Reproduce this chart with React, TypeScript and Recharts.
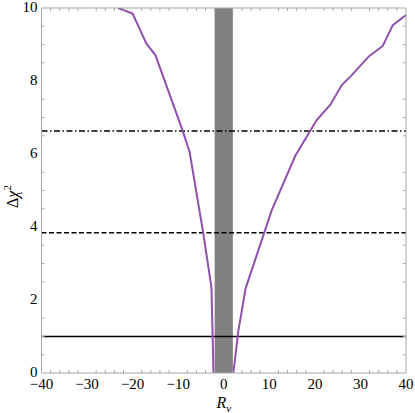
import {
  ComposedChart,
  Line,
  XAxis,
  YAxis,
  CartesianGrid,
  ReferenceLine,
  ReferenceArea,
  Label,
} from "recharts";

// left branch of the curve (R_nu, delta chi^2)
const leftR = [-23.2, -20.0, -17.0, -15.0, -9.2, -7.5, -4.5, -2.7, -2.25];
const leftChi = [10.0, 9.85, 9.03, 8.71, 6.7, 6.06, 3.83, 2.35, 0];

// right branch
const rightR = [2.1, 3.2, 4.8, 10.5, 15.7, 20.4, 23.4, 25.9, 28.1, 31.9, 34.9, 37.1, 40];
const rightChi = [0, 1.15, 2.32, 4.45, 5.95, 6.93, 7.35, 7.89, 8.16, 8.68, 8.96, 9.53, 9.81];

// excluded band and confidence levels
const bandLo = -2;
const bandHi = 2;
const level1 = 1;
const level2 = 3.84;
const level3 = 6.63;

const xMajor = [-40, -30, -20, -10, 0, 10, 20, 30, 40];
const xMinor = [
  -38, -36, -34, -32, -28, -26, -24, -22, -18, -16, -14, -12, -8, -6, -4, -2,
  2, 4, 6, 8, 12, 14, 16, 18, 22, 24, 26, 28, 32, 34, 36, 38,
];
const yMajor = [0, 2, 4, 6, 8, 10];
const yMinor = [0.5, 1, 1.5, 2.5, 3, 3.5, 4.5, 5, 5.5, 6.5, 7, 7.5, 8.5, 9, 9.5];

const leftData = leftR.map((r, i) => ({ x: r, y: leftChi[i] }));
const rightData = rightR.map((r, i) => ({ x: r, y: rightChi[i] }));

const FONT = "Liberation Serif, Times New Roman, DejaVu Serif, serif";
const FRAME = "#a8a8a8";
const GRID = "#d2d2d2";
const PURPLE = "#9150ab";

const minus = (v: number) => String(v).replace("-", "\u2212");

function BottomTick(props: any) {
  const { x, y, payload } = props;
  const v = payload.value;
  if (xMajor.includes(v)) {
    return (
      <text x={x} y={y} dy="0.71em" textAnchor="middle" style={{ fontFamily: FONT, fontSize: 15 }} fill="#000">
        {minus(v)}
      </text>
    );
  }
  return <line x1={x} x2={x} y1={y - 5} y2={y - 8} stroke={FRAME} />;
}

function LeftTick(props: any) {
  const { x, y, payload } = props;
  const v = payload.value;
  if (yMajor.includes(v)) {
    return (
      <text x={x} y={y - 1} dy="0.35em" textAnchor="end" style={{ fontFamily: FONT, fontSize: 15 }} fill="#000">
        {v}
      </text>
    );
  }
  return <line x1={x + 4} x2={x + 7} y1={y} y2={y} stroke={FRAME} />;
}

function TopTick(props: any) {
  const { x, y } = props;
  return <line x1={x} x2={x} y1={y} y2={y + 3} stroke={FRAME} />;
}

function RightTick(props: any) {
  const { x, y } = props;
  return <line x1={x} x2={x - 3} y1={y} y2={y} stroke={FRAME} />;
}

export default function App() {
  return (
    <div style={{ position: "absolute", left: 0, top: 0, background: "#fff" }}>
      <ComposedChart
        width={415}
        height={413}
        margin={{ top: 0, right: 0, left: 11.5, bottom: 0 }}
      >
        <CartesianGrid
          stroke={GRID}
          verticalValues={xMajor}
          horizontalValues={yMajor}
        />
        <XAxis
          xAxisId="b"
          type="number"
          dataKey="x"
          domain={[-40, 40]}
          ticks={[...xMajor, ...xMinor].sort((a, b) => a - b)}
          interval={0}
          allowDataOverflow
          height={40}
          tickSize={0}
          tickMargin={5}
          tick={<BottomTick />}
          axisLine={{ stroke: FRAME }}
        >
          <Label
            content={(p: any) => {
              const vb = p.viewBox;
              return (
                <text x={vb.x + vb.width / 2} y={vb.y + 35} textAnchor="middle" style={{ fontFamily: FONT }} fill="#000">
                  <tspan fontSize={16} fontStyle="italic">R</tspan>
                  <tspan fontSize={11} fontStyle="italic" dy={4}>ν</tspan>
                </text>
              );
            }}
          />
        </XAxis>
        <XAxis
          xAxisId="t"
          orientation="top"
          type="number"
          dataKey="x"
          domain={[-40, 40]}
          ticks={xMinor}
          interval={0}
          allowDataOverflow
          height={8}
          tickSize={0}
          tickMargin={0}
          tick={<TopTick />}
          axisLine={{ stroke: FRAME }}
        />
        <YAxis
          yAxisId="l"
          type="number"
          domain={[0, 10]}
          ticks={[...yMajor, ...yMinor].sort((a, b) => a - b)}
          interval={0}
          allowDataOverflow
          width={30}
          tickSize={0}
          tickMargin={4}
          tick={<LeftTick />}
          axisLine={{ stroke: FRAME }}
        >
          <Label
            content={(p: any) => {
              const vb = p.viewBox;
              const cx = 18;
              const cy = vb.y + vb.height / 2 + 6;
              return (
                <text
                  x={cx}
                  y={cy}
                  textAnchor="middle"
                  style={{ fontFamily: FONT }}
                  fill="#000"
                  transform={`rotate(-90 ${cx} ${cy})`}
                >
                  <tspan fontSize={16}>Δ</tspan>
                  <tspan fontSize={16} fontStyle="italic">χ</tspan>
                  <tspan fontSize={11} dy={-7}>2</tspan>
                </text>
              );
            }}
          />
        </YAxis>
        <YAxis
          yAxisId="r"
          orientation="right"
          type="number"
          domain={[0, 10]}
          ticks={yMinor}
          interval={0}
          allowDataOverflow
          width={9}
          tickSize={0}
          tickMargin={0}
          tick={<RightTick />}
          axisLine={{ stroke: FRAME }}
        />
        <ReferenceLine xAxisId="b" yAxisId="l" y={level1} stroke="#000" strokeWidth={1.5} />
        <ReferenceLine
          xAxisId="b"
          yAxisId="l"
          y={level2}
          stroke="#000"
          strokeWidth={1.5}
          strokeDasharray="5 2.5"
        />
        <ReferenceLine
          xAxisId="b"
          yAxisId="l"
          y={level3}
          stroke="#000"
          strokeWidth={1.5}
          strokeDasharray="6 2.5 1.5 2.5"
        />
        <ReferenceArea
          xAxisId="b"
          yAxisId="l"
          x1={bandLo}
          x2={bandHi}
          y1={0}
          y2={10}
          fill="#808080"
          fillOpacity={1}
          stroke="none"
        />
        <Line
          xAxisId="b"
          yAxisId="l"
          data={leftData}
          dataKey="y"
          type="linear"
          stroke={PURPLE}
          strokeWidth={2}
          dot={false}
          isAnimationActive={false}
        />
        <Line
          xAxisId="b"
          yAxisId="l"
          data={rightData}
          dataKey="y"
          type="linear"
          stroke={PURPLE}
          strokeWidth={2}
          dot={false}
          isAnimationActive={false}
        />
      </ComposedChart>
    </div>
  );
}
